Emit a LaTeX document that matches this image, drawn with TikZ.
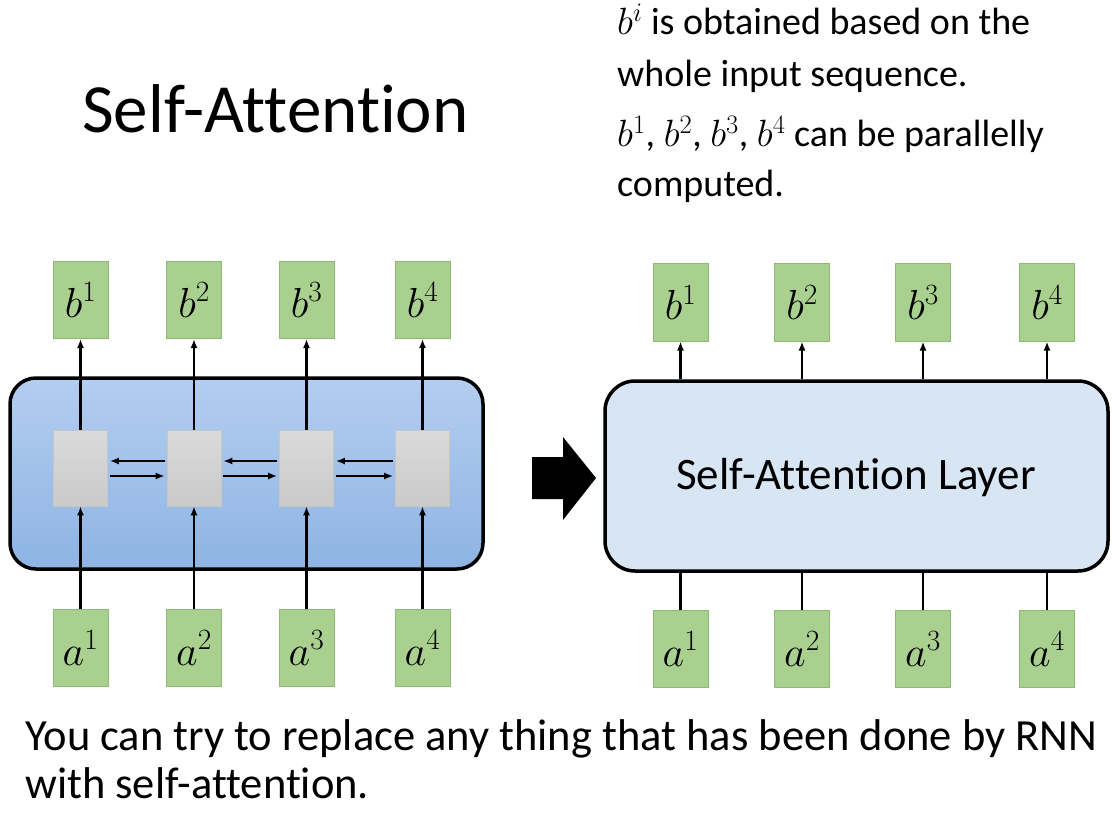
\documentclass[tikz,border=0pt]{standalone}
\usepackage{fix-cm}
\usepackage{fontspec}
\setmainfont{Carlito}[Ligatures={NoCommon}]
\usetikzlibrary{arrows.meta}
\definecolor{gfill}{RGB}{169,208,142}
\definecolor{gdraw}{RGB}{140,185,115}
\definecolor{bluetop}{RGB}{180,205,240}
\definecolor{bluebot}{RGB}{142,180,227}
\definecolor{lightblue}{RGB}{216,229,243}
\definecolor{celltop}{RGB}{218,218,218}
\definecolor{cellbot}{RGB}{202,202,202}
\begin{document}
\begin{tikzpicture}[x=1pt,y=-1pt,
  vec/.style={draw=gdraw, line width=1pt, fill=gfill, minimum width=55pt, minimum height=77pt, inner sep=0pt, font=\fontsize{42}{48}\selectfont},
  cell/.style={draw=gray!45, line width=0.6pt, top color=celltop, bottom color=cellbot, minimum width=54pt, minimum height=76pt, inner sep=0pt},
  arr/.style={-{Latex[length=9pt,width=7pt]}, line width=2.4pt},
  plain/.style={line width=2.4pt},
  txt/.style={anchor=base west, inner sep=0pt},
  side/.style={txt, font=\fontsize{38}{44}\selectfont}
]
\useasboundingbox (0,0) rectangle (1112,829);

% title and texts
\node[txt, font=\fontsize{69}{74}\selectfont] (title) at (82,133) {Self-Attention};
\node[side] (t1) at (617,35) {$b^{i}$ is obtained based on the};
\node[side] (t2) at (617,87) {whole input sequence.};
\node[side] (t3) at (617,147) {$b^{1}$, $b^{2}$, $b^{3}$, $b^{4}$ can be parallelly};
\node[side] (t4) at (617,197) {computed.};
\node[txt, font=\fontsize{44.5}{50}\selectfont] (bt1) at (25,750) {You can try to replace any thing that has been done by RNN};
\node[txt, font=\fontsize{44.5}{50}\selectfont] (bt2) at (25,798) {with self-attention.};

% left RNN block
\draw[line width=3.5pt, rounded corners=26pt, top color=bluetop, bottom color=bluebot] (10,378) rectangle (483,569);

\foreach \i/\x in {1/80.5,2/194,3/306.5,4/422.5}{
  \node[vec] (lb\i) at (\x,300) {$b^{\i}$};
  \node[vec] (la\i) at (\x,648) {$a^{\i}$};
  \node[cell] (g\i) at (\x,468) {};
  \draw[arr] (g\i.north) -- (lb\i.south);
  \draw[arr] (la\i.north) -- (g\i.south);
}
\foreach \p/\n in {1/2,2/3,3/4}{
  \draw[arr, shorten >=2pt, shorten <=2pt] ([yshift=7pt]g\n.west) -- ([yshift=7pt]g\p.east);
  \draw[arr, shorten >=2pt, shorten <=2pt] ([yshift=-8pt]g\p.east) -- ([yshift=-8pt]g\n.west);
}

% big black arrow
\fill[black] (532,457) -- (563,457) -- (563,437) -- (596,478) -- (563,520) -- (563,499) -- (532,499) -- cycle;

% right self-attention block
\node[draw, line width=3.5pt, rounded corners=30pt, fill=lightblue, minimum width=503pt, minimum height=190pt, inner sep=0pt] (sa) at (856.5,476) {};
\node[anchor=base, inner sep=0pt, font=\fontsize{45}{50}\selectfont] (salabel) at (856,489) {Self-Attention Layer};

\foreach \i/\x in {1/680.5,2/802,3/923,4/1047}{
  \node[vec] (rb\i) at (\x,302.5) {$b^{\i}$};
  \node[vec] (ra\i) at (\x,649) {$a^{\i}$};
  \draw[arr] (rb\i.south |- sa.north) -- (rb\i.south);
  \draw[plain] (ra\i.north) -- (ra\i.north |- sa.south);
}
\end{tikzpicture}
\end{document}
